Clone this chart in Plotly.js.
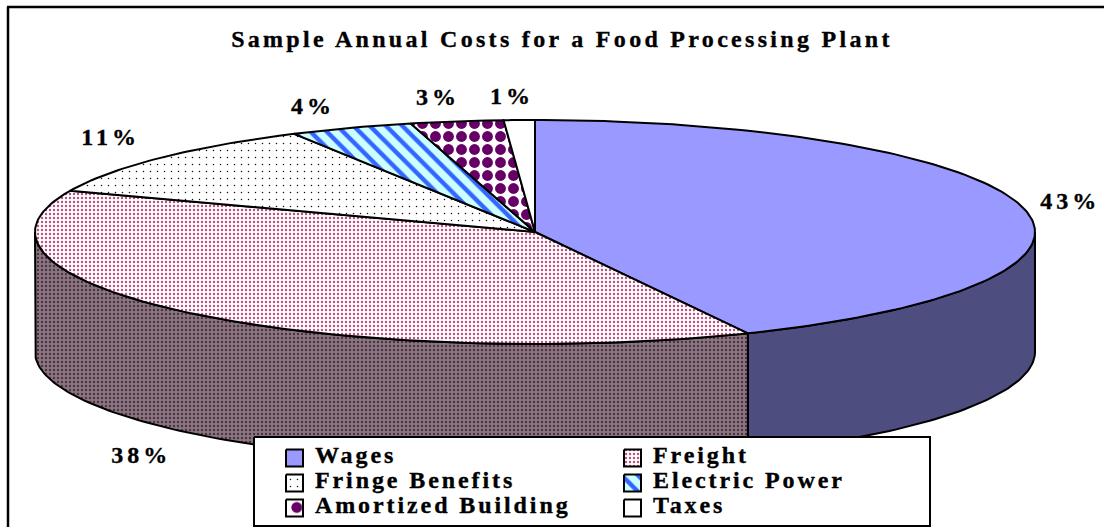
<!DOCTYPE html>
<html>
<head>
<meta charset="utf-8">
<script src="https://cdn.plot.ly/plotly-3.0.1.min.js"></script>
<style>
  html, body { margin: 0; padding: 0; background: #fff; }
  #chart { width: 1104px; height: 527px; }
  .annotation-text { letter-spacing: 2.9px; stroke: #000; stroke-width: 0.35px; }
  .annotation[data-index="6"] .annotation-text,
  .annotation[data-index="7"] .annotation-text,
  .annotation[data-index="8"] .annotation-text,
  .annotation[data-index="9"] .annotation-text,
  .annotation[data-index="10"] .annotation-text,
  .annotation[data-index="11"] .annotation-text { letter-spacing: 4px; }
  .gtitle { letter-spacing: 3.3px; stroke: #000; stroke-width: 0.35px; }
</style>
</head>
<body>
<div id="chart"></div>
<script>
// Cost categories and their share of the annual total, in percent
const categories = ['Wages', 'Freight', 'Fringe Benefits', 'Electric Power', 'Amortized Building', 'Taxes'];
const costShares = [43, 38, 11, 4, 3, 1];

// Pie geometry, expressed in the plot's axis units
const CX = 535, CY = 232, RX = 500, RY = 112, DEPTH = 120;

// Surface styling per category
const fills = ['#9999FF', '#FFFFFF', '#FFFFFF', '#CCFFFF', '#FFFFFF', '#FFFFFF'];
const patterns = [
  null,
  { shape: '.', size: 4, solidity: 0.27, fgcolor: '#B5507F', bgcolor: '#FFFFFF', fillmode: 'replace' },
  { shape: '.', size: 7, solidity: 0.035, fgcolor: '#111111', bgcolor: '#FFFFFF', fillmode: 'replace' },
  { shape: '\\', size: 11.5, solidity: 0.38, fgcolor: '#3366FF', bgcolor: '#CCFFFF', fillmode: 'replace' },
  { shape: '.', size: 13, solidity: 0.55, fgcolor: '#660066', bgcolor: '#FFFFFF', fillmode: 'replace' },
  null
];
const wallFills = { Wages: '#4D4D80', Freight: '#85797F' };
const wallPatterns = {
  Freight: { shape: '.', size: 4, solidity: 0.27, fgcolor: '#5A2A44', bgcolor: '#85797F', fillmode: 'replace' }
};

// Percent label anchors and legend placement
const labelX = [1070, 141, 110, 313, 438, 512];
const labelY = [201, 455, 137, 106, 97, 96];
const legendBox = { x0: 254, x1: 930, y0: 437, y1: 526 };
const legendCols = [286, 624];
const legendRows = [458, 483, 508];
const swatchSize = 17;

// Point on the elliptical rim, angle measured clockwise from the top
function rim(deg, drop) {
  const a = deg * Math.PI / 180;
  return [CX + RX * Math.sin(a), CY - RY * Math.cos(a) + (drop || 0)];
}

function arc(from, to, drop) {
  const pts = [];
  const steps = Math.max(2, Math.ceil(Math.abs(to - from)));
  for (let i = 0; i <= steps; i++) pts.push(rim(from + (to - from) * i / steps, drop));
  return pts;
}

function polygon(name, pts, fill, pattern, width) {
  const trace = {
    type: 'scatter', mode: 'lines', name: name, showlegend: false, hoverinfo: 'name',
    x: pts.map(p => p[0]), y: pts.map(p => p[1]),
    fill: 'toself', fillcolor: fill,
    line: { color: '#000000', width: width }
  };
  if (pattern) trace.fillpattern = pattern;
  return trace;
}

// Turn the shares into slice angles
const total = costShares.reduce((a, b) => a + b, 0);
const bounds = [0];
costShares.forEach(v => bounds.push(bounds[bounds.length - 1] + v / total * 360));

const traces = [];

// Side walls: only the part of a slice facing the viewer (90 to 270 degrees) is visible
categories.forEach((name, i) => {
  const from = Math.max(bounds[i], 90), to = Math.min(bounds[i + 1], 270);
  if (to <= from) return;
  const pts = arc(from, to, 0).concat(arc(to, from, DEPTH));
  pts.push(pts[0]);
  traces.push(polygon(name + ' side', pts, wallFills[name], wallPatterns[name], 2));
});

// Top surface of every slice
categories.forEach((name, i) => {
  const pts = [[CX, CY]].concat(arc(bounds[i], bounds[i + 1], 0));
  pts.push([CX, CY]);
  traces.push(polygon(name, pts, fills[i], patterns[i], 2));
});

// Legend panel and swatches
const b = legendBox;
traces.push(polygon('legend', [[b.x0, b.y0], [b.x1, b.y0], [b.x1, b.y1], [b.x0, b.y1], [b.x0, b.y0]], '#FFFFFF', null, 2));

const keyLabels = [];
const percentLabels = [];
categories.forEach((name, i) => {
  const col = legendCols[i % 2], row = legendRows[Math.floor(i / 2)];
  const h = swatchSize / 2;
  const sx0 = col, sx1 = col + swatchSize, sy0 = row - h, sy1 = row + h;
  let pattern = patterns[i];
  // The building swatch shows one whole diamond, so its tile is larger than the slice's
  if (name === 'Amortized Building') pattern = Object.assign({}, pattern, { size: 19.15, solidity: 0.26 });
  traces.push(polygon(name + ' key', [[sx0, sy0], [sx1, sy0], [sx1, sy1], [sx0, sy1], [sx0, sy0]], fills[i], pattern, 2));
  keyLabels.push({
    text: '<b>' + name + '</b>', x: col + 27, y: row - 3, xref: 'x', yref: 'y',
    xanchor: 'left', yanchor: 'middle', showarrow: false,
    font: { family: 'Liberation Serif', size: 24, color: '#000000' }
  });
  percentLabels.push({
    text: '<b>' + costShares[i] + '%</b>', x: labelX[i], y: labelY[i], xref: 'x', yref: 'y',
    xanchor: 'center', yanchor: 'middle', showarrow: false,
    font: { family: 'Liberation Serif', size: 24, color: '#000000' }
  });
});

const layout = {
  width: 1104, height: 527,
  margin: { l: 0, r: 0, t: 0, b: 0 },
  paper_bgcolor: '#FFFFFF', plot_bgcolor: '#FFFFFF',
  showlegend: false,
  title: {
    text: '<b>Sample Annual Costs for a Food Processing Plant</b>',
    x: 0.509, xanchor: 'center', y: 0.927, yanchor: 'middle',
    font: { family: 'Liberation Serif', size: 24, color: '#000000' }
  },
  xaxis: { range: [0, 1104], visible: false, fixedrange: true },
  yaxis: { range: [527, 0], visible: false, fixedrange: true },
  annotations: keyLabels.concat(percentLabels),
  shapes: [
    { type: 'line', xref: 'x', yref: 'y', x0: 8, x1: 8, y0: 7, y1: 527, line: { color: '#000000', width: 2.5 } },
    { type: 'line', xref: 'x', yref: 'y', x0: 7, x1: 1104, y0: 7, y1: 7, line: { color: '#000000', width: 2.5 } }
  ]
};

Plotly.newPlot('chart', traces, layout, { displayModeBar: false, staticPlot: true });
</script>
</body>
</html>
